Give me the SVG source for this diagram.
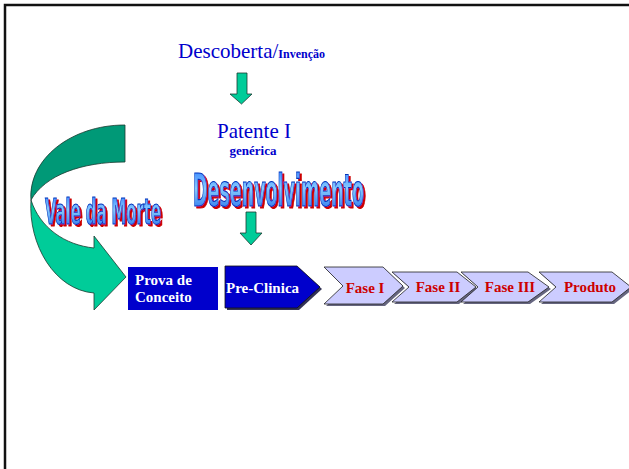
<svg xmlns="http://www.w3.org/2000/svg" width="629" height="469" viewBox="0 0 629 469">
<defs>
<style>
.serif{font-family:"Liberation Serif","Times New Roman",serif;}
.blue{fill:#0000CC;}
.wa{font-family:"DejaVu Sans Condensed","Liberation Sans Narrow","DejaVu Sans",sans-serif;font-weight:bold;fill:url(#wag);stroke:#0033bb;stroke-width:1;filter:url(#redshadow);}
.chev{fill:#CCCCFF;stroke:#222;stroke-width:0.8;}
.shadow{fill:#666680;}
.red{fill:#CC0000;font-weight:bold;font-size:15px;}
.white{fill:#FFFFFF;font-weight:bold;font-size:15px;}
.garrow{fill:#00CC99;stroke:#1a3a30;stroke-width:0.8;}
</style>
<linearGradient id="wag" x1="0" y1="0" x2="0" y2="1">
<stop offset="0" stop-color="#2a78ff"/>
<stop offset="0.45" stop-color="#86ccff"/>
<stop offset="1" stop-color="#1660e8"/>
</linearGradient>
<filter id="redshadow" x="-5%" y="-10%" width="115%" height="130%">
<feOffset in="SourceAlpha" dx="2" dy="2" result="off"/>
<feFlood flood-color="#CC0000"/>
<feComposite in2="off" operator="in" result="sh"/>
<feMerge><feMergeNode in="sh"/><feMergeNode in="SourceGraphic"/></feMerge>
</filter>
</defs>
<rect x="0" y="0" width="629" height="469" fill="#FFFFFF"/>
<path d="M5,469 L5,5 L629,5" fill="none" stroke="#111" stroke-width="2.5"/>

<g id="descoberta">
<text class="serif blue" x="178" y="58" font-size="21">Descoberta/<tspan font-size="12" font-weight="bold">Invenção</tspan></text>
</g>

<g id="patente">
<text class="serif blue" x="254" y="138" font-size="21" text-anchor="middle">Patente I</text>
<text class="serif blue" x="253" y="155" font-size="13" font-weight="bold" text-anchor="middle">genérica</text>
</g>

<g id="desenvolvimento" transform="translate(0,206) scale(1,1.15)">
<text class="wa" x="193" y="0" font-size="38" textLength="171" lengthAdjust="spacingAndGlyphs">Desenvolvimento</text>
</g>

<g id="connectors">
<path class="garrow" d="M237,73 L247,73 L247,94 L252,94 L241.5,104 L230,94 L237,94 Z"/>
<path class="garrow" d="M246,212 L256,212 L256,233 L262,233 L251,245 L240,233 L246,233 Z"/>
<g id="vale-curve">
<path d="M125,125 L125,162 C82,162 45,175 31,200 C28,160 70,125 125,125 Z" fill="#009977" stroke="#1a3a30" stroke-width="0.8"/>
<path d="M31,200 C28,245 55,290 94,293 L94,310 L126,277 L94,236 L94,248 C65,245 40,228 31,200 Z" fill="#00CC99" stroke="#1a3a30" stroke-width="0.8"/>
</g>
</g>

<g id="vale-da-morte" transform="translate(0,224) scale(1,1.12)">
<text class="wa" x="45" y="0" font-size="31" textLength="116" lengthAdjust="spacingAndGlyphs">Vale da Morte</text>
</g>

<g id="prova-de-conceito">
<rect x="128" y="267" width="90" height="43" fill="#0000CC"/>
<text class="serif white" x="135" y="285">Prova de</text>
<text class="serif white" x="135" y="302">Conceito</text>
</g>

<g id="pre-clinica">
<polygon points="227,268 299,268 322,289 299,310 227,310" fill="#333355"/>
<polygon points="225,266 297,266 320,287 297,308 225,308" fill="#0000CC" stroke="#111" stroke-width="0.8"/>
<text class="serif white" x="226" y="293">Pre-Clinica</text>
</g>

<g id="fase-1">
<polygon class="shadow" points="326,269 385,269 405,288 385,306 326,306 345,288"/>
<polygon class="chev" points="324,267 383,267 403,286 383,304 324,304 343,286"/>
<text class="serif red" x="365" y="293" text-anchor="middle">Fase I</text>
</g>

<g id="fase-2">
<polygon class="shadow" points="394,274 459,274 478,289 459,304 394,304 411,289"/>
<polygon class="chev" points="392,272 457,272 476,287 457,302 392,302 409,287"/>
<text class="serif red" x="438" y="292" text-anchor="middle">Fase II</text>
</g>

<g id="fase-3">
<polygon class="shadow" points="463,274 530,274 551,289 530,304 463,304 480,289"/>
<polygon class="chev" points="461,272 528,272 549,287 528,302 461,302 478,287"/>
<text class="serif red" x="510" y="292" text-anchor="middle">Fase III</text>
</g>

<g id="produto">
<polygon class="shadow" points="541,274 614,274 633,289 614,304 541,304 558,289"/>
<polygon class="chev" points="539,272 612,272 631,287 612,302 539,302 556,287"/>
<text class="serif red" x="590" y="292" text-anchor="middle">Produto</text>
</g>
</svg>
